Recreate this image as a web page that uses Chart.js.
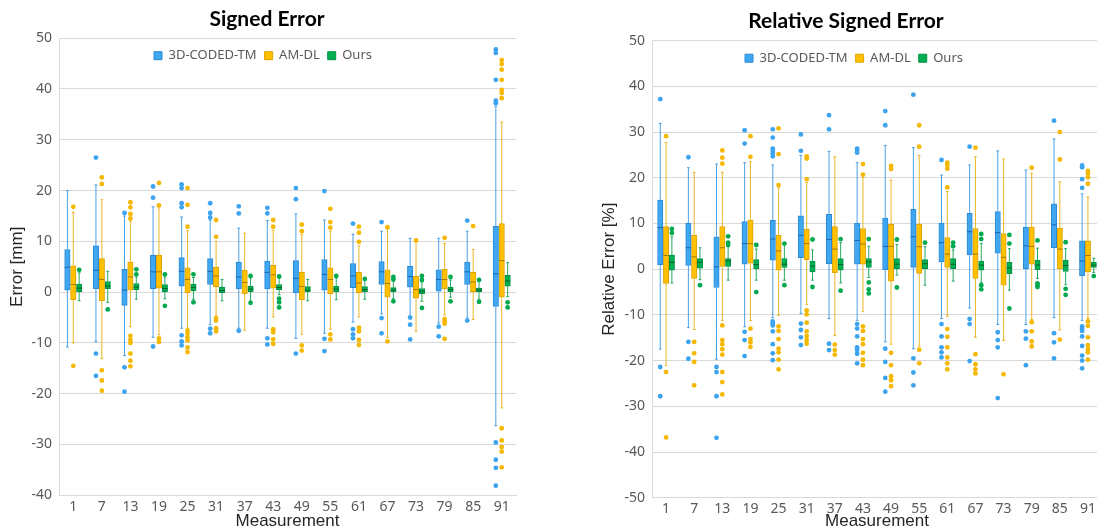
<!DOCTYPE html>
<html><head><meta charset="utf-8">
<script src="https://cdn.jsdelivr.net/npm/chart.js@4/dist/chart.umd.min.js"></script>
<style>
html,body{margin:0;padding:0;background:#fff;overflow:hidden;width:1097px;height:532px;position:relative}
#w1{position:absolute;left:0;top:0;width:534px;height:532px}
#w2{position:absolute;left:548px;top:0;width:596px;height:532px}
</style></head><body>
<div id="w1"><canvas id="c1" width="534" height="532"></canvas></div>
<div id="w2"><canvas id="c2" width="596" height="532"></canvas></div>
<script>
// ---------- data ----------
const categories = ['1','7','13','19','25','31','37','43','49','55','61','67','73','79','85','91'];
const seriesNames = ['3D-CODED-TM','AM-DL','Ours'];

// Signed error [mm]: [whiskerLow, Q1, median, Q3, whiskerHigh]
const seTM = [[-10.8,0.4,4.9,8.4,20.0],[-9.7,0.7,4.3,9.1,21.1],[-12.5,-2.6,0.4,4.5,15.0],[-8.9,0.7,4.0,7.3,16.8],[-7.1,1.2,4.1,6.8,14.8],[-6.4,1.5,4.1,6.6,14.2],[-7.1,0.7,3.0,5.9,12.6],[-7.1,0.7,3.9,6.1,14.1],[-9.1,-0.1,2.7,6.2,15.4],[-8.1,0.4,3.5,6.4,14.2],[-5.9,0.9,3.2,5.6,11.4],[-4.3,1.5,4.0,6.0,12.0],[-4.7,1.0,3.1,5.1,10.6],[-6.1,0.2,2.5,4.4,10.6],[-5.1,1.5,4.0,5.9,12.0],[-26.3,-2.8,3.6,13.0,36.6]];
const seTMOut = [[],[26.5,-12.1,-16.5],[15.6,-14.8,-19.6],[20.8,18.6,-10.7],[21.2,20.5,17.5,16.7,-8.5,-9.7,-10.5],[17.5,15.6,14.7,-7.2,-8.1],[16.9,15.5,-7.6],[16.6,15.5,-9.1,-10.3],[20.5,18.3,-12.1],[19.9,-9.2,-11.6],[13.5,-7.3,-8.3,-9.1],[13.8,-5.1,-8.1],[-5.0,-6.4,-9.3],[-6.8,-8.7],[14.1,-5.6],[47.8,47.1,41.8,37.7,37.2,-29.6,-33.0,-34.6,-38.1]];
const seAM = [[-10.0,-1.5,1.5,5.2,15.7],[-13.1,-1.7,2.5,6.6,18.2],[-6.8,0.4,3.0,5.9,14.0],[-8.4,0.8,4.0,7.3,16.6],[-7.1,-0.1,2.5,4.8,12.1],[-4.7,1.1,3.2,4.9,10.0],[-7.5,-0.3,1.9,4.3,11.6],[-4.9,0.8,3.4,5.3,12.2],[-8.3,-1.5,1.1,3.9,11.3],[-7.3,-0.3,2.5,4.8,12.0],[-4.9,-0.1,1.8,3.9,9.1],[-8.9,-1.0,1.7,4.4,12.5],[-7.7,-1.2,0.5,3.1,9.9],[-4.5,0.7,2.5,4.5,9.6],[-5.4,0.0,2.0,3.9,8.4],[-22.8,-1.0,6.2,13.5,33.5]];
const seAMOut = [[16.8,-14.5],[22.6,21.3,-15.4,-17.4,-19.4],[17.7,16.7,15.4,14.5,-8.6,-9.4,-10.0,-12.1,-13.5,-14.6],[21.5,17.1,-9.1,-9.8],[20.5,17.2,12.9,-7.6,-8.2,-8.9,-9.5,-10.9,-11.8],[14.2,10.9,-5.1,-5.6,-7.1,-7.7],[],[14.2,12.9,-7.3,-7.9,-9.3,-10.2],[13.3,12.0,-10.5,-11.5],[16.4,13.8,12.7,-8.3,-9.3],[12.9,11.7,9.9,-7.0,-7.7,-9.4,-10.4],[12.8,-9.7],[10.2],[10.7,-5.3,-5.8,-6.2,-9.2],[13.0],[45.7,44.9,43.8,41.8,39.8,39.2,38.2,-26.8,-29.2,-30.5,-31.4,-34.5]];
const seOurs = [[-1.7,0.0,0.8,1.6,3.8],[-2.0,0.7,1.2,2.1,4.1],[-1.4,0.5,1.0,1.7,3.0],[-1.3,0.1,0.7,1.5,3.0],[-1.4,0.3,0.9,1.6,2.9],[-1.7,-0.1,0.3,1.0,2.5],[-1.8,0.0,0.6,1.2,2.8],[-0.5,0.5,0.9,1.5,2.8],[-1.7,0.0,0.4,1.1,2.5],[-1.5,0.0,0.6,1.2,2.8],[-1.4,0.1,0.5,1.1,2.4],[-1.3,0.0,0.4,0.9,2.2],[-1.8,-0.3,0.2,0.7,2.0],[-1.0,0.0,0.5,1.0,2.4],[-1.4,0.0,0.4,0.8,2.2],[-0.9,1.2,2.2,3.3,5.8]];
const seOursOut = [[4.4],[-3.4],[4.5,3.5],[3.5,-2.7],[3.5,-2.0],[],[3.2,-2.1],[3.1,-1.3,-2.0,-3.0],[],[3.2],[2.6],[3.0,2.5,-1.8],[3.2,2.4,-3.1],[3.0,-1.8],[2.4,-1.9],[-2.0,-3.0]];

// Relative signed error [%]: [whiskerLow, Q1, median, Q3, whiskerHigh]
const rseTM = [[-17.5,1.0,9.1,15.1,31.9],[-12.8,0.8,4.7,10.1,22.2],[-19.7,-4.0,0.5,7.1,23.0],[-12.6,1.1,5.6,10.4,23.3],[-10.6,2.0,6.6,10.7,22.8],[-9.7,2.5,7.4,11.7,24.9],[-10.8,1.2,6.5,12.0,25.8],[-11.2,1.1,6.3,10.1,23.3],[-15.9,-0.1,5.0,11.2,27.1],[-17.4,0.4,7.1,13.1,26.6],[-10.8,1.6,5.8,10.1,20.6],[-8.5,3.1,8.2,12.2,22.8],[-12.1,3.5,8.0,12.6,25.9],[-12.1,0.1,5.1,9.2,21.7],[-10.6,4.7,9.7,14.3,28.5],[-11.2,-1.4,1.8,6.2,16.5]];
const rseTMOut = [[37.2,-21.4,-27.8],[24.5,-15.9,-19.6],[-21.4,-22.5,-27.8,-36.9],[30.4,27.5,-13.7,-15.5,-19.0],[30.6,28.8,26.4,25.9,25.3,24.7,-11.4,-11.9,-12.3,-13.6,-16.4,-18.4,-19.9],[29.5,25.9,-11.9,-13.3,-14.9,-16.6],[33.7,30.6,-16.3,-17.7],[26.4,25.9,25.5,-12.0,-13.0,-14.7,-17.1,-17.7,-18.5,-20.6],[34.6,31.5,-17.4,-20.3,-23.8,-26.8],[38.2,-19.5,-22.6,-25.4],[23.9,-12.0,-14.7,-17.1,-18.2,-19.3],[26.8,-10.9,-12.0,-20.1],[-13.8,-15.5,-17.1,-28.2],[-13.6,-15.2,-21.0],[32.5,-14.0,-16.0,-19.5],[22.7,22.3,19.7,17.8,-12.5,-13.0,-13.5,-14.7,-16.8,-18.9,-20.0,-21.7]];
const rseAM = [[-21.1,-3.1,3.0,9.3,27.7],[-13.2,-2.0,2.7,7.4,21.2],[-11.2,0.6,4.7,9.3,21.2],[-11.2,1.3,5.6,10.7,23.5],[-10.1,-0.2,4.0,7.4,17.8],[-7.7,2.1,5.6,8.8,19.0],[-14.5,-0.8,4.4,9.3,24.6],[-9.3,1.1,5.5,8.9,20.2],[-16.4,-2.6,5.0,9.8,19.5],[-16.8,-0.9,4.9,9.8,24.9],[-10.3,0.4,3.3,6.9,17.0],[-14.9,-2.0,3.3,8.9,24.6],[-15.6,-3.5,2.6,7.8,24.1],[-11.0,1.1,5.0,9.2,21.0],[-13.3,0.0,4.4,9.0,19.1],[-10.8,-0.6,3.0,6.2,15.8]];
const rseAMOut = [[29.1,-22.5,-36.8],[-15.9,-18.4,-20.3,-25.4],[26.0,24.4,23.1,-12.3,-15.5,-16.4,-17.5,-18.7,-22.5,-24.7,-27.4],[29.1,24.6,-13.0,-15.3,-16.0,-17.0],[30.8,25.2,18.4,-12.5,-13.5,-15.3,-17.4,-18.2,-19.8,-21.9],[24.7,24.2,19.7,-9.0,-9.9,-11.7,-13.6,-14.6,-15.5,-16.3],[-16.5,-17.7,-18.7],[23.0,20.7,-12.5,-13.5,-15.3,-16.4,-18.3,-19.8,-21.0],[22.6,21.9,-18.3,-21.0,-23.4,-24.3,-25.6],[31.5,26.8,-17.6,-20.6],[23.3,22.8,22.0,17.9,-13.1,-14.8,-17.1,-19.3,-20.6,-21.9],[26.6,-18.6,-20.8,-21.9,-22.8],[-23.0],[22.2,-11.6,-13.6,-15.8,-16.9],[30.0,24.0,-15.4],[21.5,20.9,20.1,18.7,-11.4,-12.4,-14.9,-16.6,-17.5,-18.2,-19.8]];
const rseOurs = [[-3.0,-0.2,1.5,3.1,7.1],[-2.3,0.2,1.5,2.3,4.7],[-2.4,0.6,1.8,2.3,5.0],[-2.4,0.1,1.0,2.1,4.4],[-2.4,0.4,1.1,2.3,5.4],[-2.4,-0.6,0.7,1.8,4.2],[-3.0,-0.2,1.0,2.3,5.8],[-1.8,0.4,1.6,2.3,5.0],[-1.3,0.1,1.1,2.3,5.4],[-3.5,0.0,1.2,2.1,4.9],[-2.6,0.0,1.1,2.3,4.2],[-3.0,-0.2,0.9,1.8,5.6],[-4.6,-1.0,0.3,1.5,4.5],[-2.0,-0.1,0.9,2.0,4.6],[-3.4,-0.5,0.8,2.0,4.5],[-0.7,0.4,0.9,1.5,2.4]];
const rseOursOut = [[8.8,7.9],[-3.5],[7.2,5.8,5.3],[5.3,-5.0],[5.6,-3.5],[6.5,-3.9],[6.6,-4.7],[6.6,-2.9,-4.4,-5.3],[6.5,-4.0],[5.8],[5.8,5.0],[7.7,6.6,-3.5,-4.4],[7.5,5.6,-8.6],[6.3,-3.1,-3.5,-3.9],[5.9,-4.3,-5.6],[-1.5]];

// ---------- styles ----------
const palette = [
  {fill:'#3FA6F2', border:'#2A8AD6', median:'#1C65A8', whisker:'rgba(45,145,225,0.85)', dot:'#3CA3EF'},
  {fill:'#FFC000', border:'#DCA400', median:'#A07700', whisker:'rgba(232,170,0,0.85)', dot:'#F4B800'},
  {fill:'#00B050', border:'#009146', median:'#005E2C', whisker:'rgba(0,155,72,0.85)', dot:'#00A94D'}
];
const CP = 0.62, BP = 0.92;

const legendOverlay = {
  id: 'legendOverlay',
  beforeLayout(chart) {
    const lg = chart.legend;
    if (lg && !lg._ov) {
      const f = lg.fit;
      lg.fit = function () { f.call(this); this.height = 0; };
      lg._ov = true;
    }
  },
  afterLayout(chart, args, opts) {
    const lg = chart.legend;
    if (!lg) return;
    lg.left += opts.dx || 0; lg.right += opts.dx || 0;
    lg.top += opts.dy || 0;
    lg.height = 40; lg.bottom = lg.top + 40;
  }
};

function buildDatasets(stats, outs, catPx) {
  const ds = [];
  const slot = CP / 3;
  const thick = catPx * slot * BP;
  stats.forEach((st, k) => {
    const c = palette[k];
    const off = -CP / 2 + slot * (k + 0.5);
    const half = slot * BP / 2;
    const cap = 0.05;
    const box = [], wh = [], md = [], ol = [];
    st.forEach((t, i) => {
      const x = i + off;
      box.push({x, y:[t[1], t[3]]});
      wh.push({x, y:t[0]}, {x, y:t[1]}, {x, y:null}, {x, y:t[3]}, {x, y:t[4]}, {x, y:null},
              {x:x-cap, y:t[0]}, {x:x+cap, y:t[0]}, {x, y:null}, {x:x-cap, y:t[4]}, {x:x+cap, y:t[4]}, {x, y:null});
      md.push({x:x-half, y:t[2]}, {x:x+half, y:t[2]}, {x, y:null});
      outs[k][i].forEach(v => ol.push({x, y:v}));
    });
    ds.push({type:'bar', label: seriesNames[k], isBox: true, grouped: false, barThickness: thick,
      data: box, backgroundColor: c.fill, borderColor: c.border, borderWidth: 1, borderSkipped: false,
      xAxisID: 'xl', yAxisID: 'y', order: 2});
    const common = {type:'line', grouped: false, xAxisID: 'xl', yAxisID: 'y', pointHoverRadius: 0, spanGaps: false};
    ds.push(Object.assign({}, common, {label:'w'+k, data: wh, borderColor: c.whisker, borderWidth: 1, pointRadius: 0, order: 3}));
    ds.push(Object.assign({}, common, {label:'m'+k, data: md, borderColor: c.median, borderWidth: 1, pointRadius: 0, order: 1}));
    ds.push(Object.assign({}, common, {label:'o'+k, data: ol, showLine: false, pointRadius: 2.4, pointBorderWidth: 0, pointBackgroundColor: c.dot, pointBorderColor: c.dot, order: 0}));
  });
  return ds;
}

function makeChart(id, o) {
  const cv = document.getElementById(id);
  const catPx = (cv.width - o.yW - o.rW) / categories.length;
  return new Chart(cv, {
    type: 'bar',
    data: { labels: categories, datasets: buildDatasets(o.stats, o.outs, catPx) },
    plugins: [legendOverlay],
    options: {
      responsive: false, animation: false, events: [],
      layout: { padding: 0 },
      plugins: {
        title: { display: true, text: o.title, color: '#000', font: { family: 'Lato', weight: 'bold', size: 21 }, padding: o.titlePad },
        legend: { display: true, position: 'top',
          labels: { filter: (item, data) => !!data.datasets[item.datasetIndex].isBox,
            boxWidth: 8, boxHeight: 8, padding: 8, color: '#595959', font: { family: 'Noto Sans', size: 13 } } },
        tooltip: { enabled: false },
        legendOverlay: { dx: o.legendDx, dy: 3 }
      },
      scales: {
        x: { type: 'category', offset: true, grid: { display: false, drawTicks: false },
          border: { display: true, color: '#D9D9D9' },
          ticks: { autoSkip: false, maxRotation: 0, padding: 3, color: '#595959', font: { family: 'Noto Sans', size: 14 } },
          title: { display: true, text: 'Measurement', color: '#262626', padding: { top: 0, bottom: 0 }, font: { family: 'Liberation Sans', size: 17 } },
          afterFit: s => { s.height = o.xH; } },
        xl: { type: 'linear', display: false, offset: false, min: -0.5, max: 15.5, grid: { offset: false } },
        y: { type: 'linear', position: 'left', min: o.ymin, max: o.ymax,
          ticks: { stepSize: 10, padding: 7, color: '#595959', font: { family: 'Noto Sans', size: 14 } },
          grid: { color: '#D9D9D9', drawTicks: false },
          border: { display: true, color: '#D9D9D9' },
          title: { display: true, text: o.ytitle, color: '#262626', padding: { top: o.yTitlePad, bottom: 0 }, font: { family: 'Liberation Sans', size: 17 } },
          afterFit: s => { s.width = o.yW; } },
        yr: { type: 'linear', position: 'right', display: true,
          ticks: { display: false }, grid: { display: false }, border: { display: false },
          afterFit: s => { s.width = o.rW; } }
      }
    }
  });
}

makeChart('c1', { title: 'Signed Error', ytitle: 'Error [mm]', ymin: -40, ymax: 50,
  stats: [seTM, seAM, seOurs], outs: [seTMOut, seAMOut, seOursOut],
  titlePad: { top: 7, bottom: 6 }, legendDx: -4, xH: 36.7, yW: 59, rW: 18, yTitlePad: 7 });
makeChart('c2', { title: 'Relative Signed Error', ytitle: 'Relative Error [%]', ymin: -50, ymax: 50,
  stats: [rseTM, rseAM, rseOurs], outs: [rseTMOut, rseAMOut, rseOursOut],
  titlePad: { top: 9, bottom: 6.5 }, legendDx: 8, xH: 34.3, yW: 104, rW: 42, yTitlePad: 51 });
</script>
</body></html>
